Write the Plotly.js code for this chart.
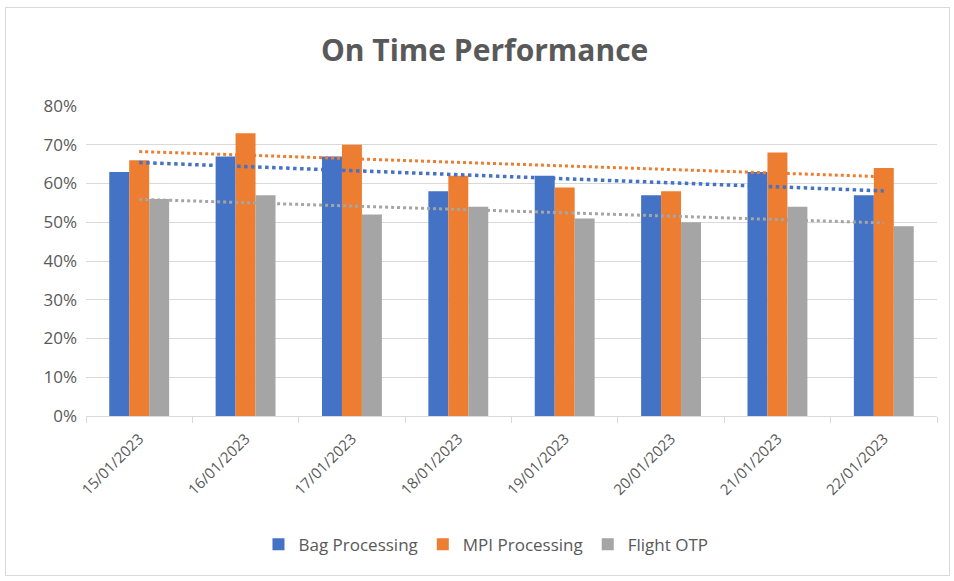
<!DOCTYPE html>
<html>
<head>
<meta charset="utf-8">
<script src="https://cdn.plot.ly/plotly-3.0.1.min.js"></script>
<style>
  html, body { margin: 0; padding: 0; background: #fff; }
  #wrap { position: relative; width: 954px; height: 581px; }
  #chart { width: 954px; height: 581px; }
  #frame { position: absolute; left: 5px; top: 7px; width: 943px; height: 567px; border: 1px solid #d9d9d9; pointer-events: none; }
</style>
</head>
<body>
<div id="wrap"><div id="chart"></div><div id="frame"></div></div>
<script>
const dates = ["15/01/2023","16/01/2023","17/01/2023","18/01/2023","19/01/2023","20/01/2023","21/01/2023","22/01/2023"];
const bagProcessing = [0.63, 0.67, 0.67, 0.58, 0.62, 0.57, 0.63, 0.57];
const mpiProcessing = [0.66, 0.73, 0.70, 0.62, 0.59, 0.58, 0.68, 0.64];
const flightOTP     = [0.56, 0.57, 0.52, 0.54, 0.51, 0.50, 0.54, 0.49];
const yTicks = [0, 0.1, 0.2, 0.3, 0.4, 0.5, 0.6, 0.7, 0.8];

const colors = { bag: "#4472C4", mpi: "#ED7D31", otp: "#A5A5A5" };

function linearTrend(ys) {
  const n = ys.length;
  const xs = ys.map((_, i) => i + 1);
  const mx = xs.reduce((a, b) => a + b, 0) / n;
  const my = ys.reduce((a, b) => a + b, 0) / n;
  let sxy = 0, sxx = 0;
  for (let i = 0; i < n; i++) { sxy += (xs[i] - mx) * (ys[i] - my); sxx += (xs[i] - mx) ** 2; }
  const slope = sxy / sxx;
  return xs.map(x => my + slope * (x - mx));
}

const font = "Open Sans, Liberation Sans, sans-serif";
const grey = "#595959";

const traces = [
  { type: "bar", name: "Bag Processing", x: dates, y: bagProcessing, marker: { color: colors.bag } },
  { type: "bar", name: "MPI Processing", x: dates, y: mpiProcessing, marker: { color: colors.mpi } },
  { type: "bar", name: "Flight OTP", x: dates, y: flightOTP, marker: { color: colors.otp } },
  { type: "scatter", mode: "lines", x: dates, y: linearTrend(bagProcessing), showlegend: false, hoverinfo: "skip",
    line: { color: colors.bag, width: 3.5, dash: "dot" } },
  { type: "scatter", mode: "lines", x: dates, y: linearTrend(mpiProcessing), showlegend: false, hoverinfo: "skip",
    line: { color: colors.mpi, width: 3, dash: "dot" } },
  { type: "scatter", mode: "lines", x: dates, y: linearTrend(flightOTP), showlegend: false, hoverinfo: "skip",
    line: { color: colors.otp, width: 3, dash: "dot" } }
];

const layout = {
  width: 954, height: 581,
  margin: { l: 86, r: 17, t: 106, b: 165 },
  paper_bgcolor: "#fff", plot_bgcolor: "#fff",
  font: { family: font, color: grey },
  title: { text: "<b>On Time Performance</b>", x: 0.508, xanchor: "center", y: 0.913, yanchor: "middle",
           font: { family: font, size: 30, color: grey } },
  barmode: "group", bargap: 0.437, bargroupgap: 0,
  xaxis: {
    type: "category", tickangle: -45, tickfont: { size: 15, color: grey },
    showgrid: false, showline: true, linecolor: "#d9d9d9", linewidth: 1,
    ticks: "outside", ticklen: 6, tickcolor: "#d9d9d9", tickson: "boundaries", ticklabelstandoff: 7
  },
  yaxis: {
    range: [0, 0.8], tickvals: yTicks, tickformat: ".0%", tickfont: { size: 17, color: grey },
    showgrid: true, gridcolor: "#d9d9d9", gridwidth: 1, zeroline: false, showline: false, ticklabelstandoff: 8
  },
  legend: { orientation: "h", x: 0.47, xanchor: "center", y: -0.415, yanchor: "middle",
            font: { size: 17, color: grey }, itemwidth: 30 },
  showlegend: true
};

Plotly.newPlot("chart", traces, layout, { displayModeBar: false, staticPlot: true });
</script>
</body>
</html>
